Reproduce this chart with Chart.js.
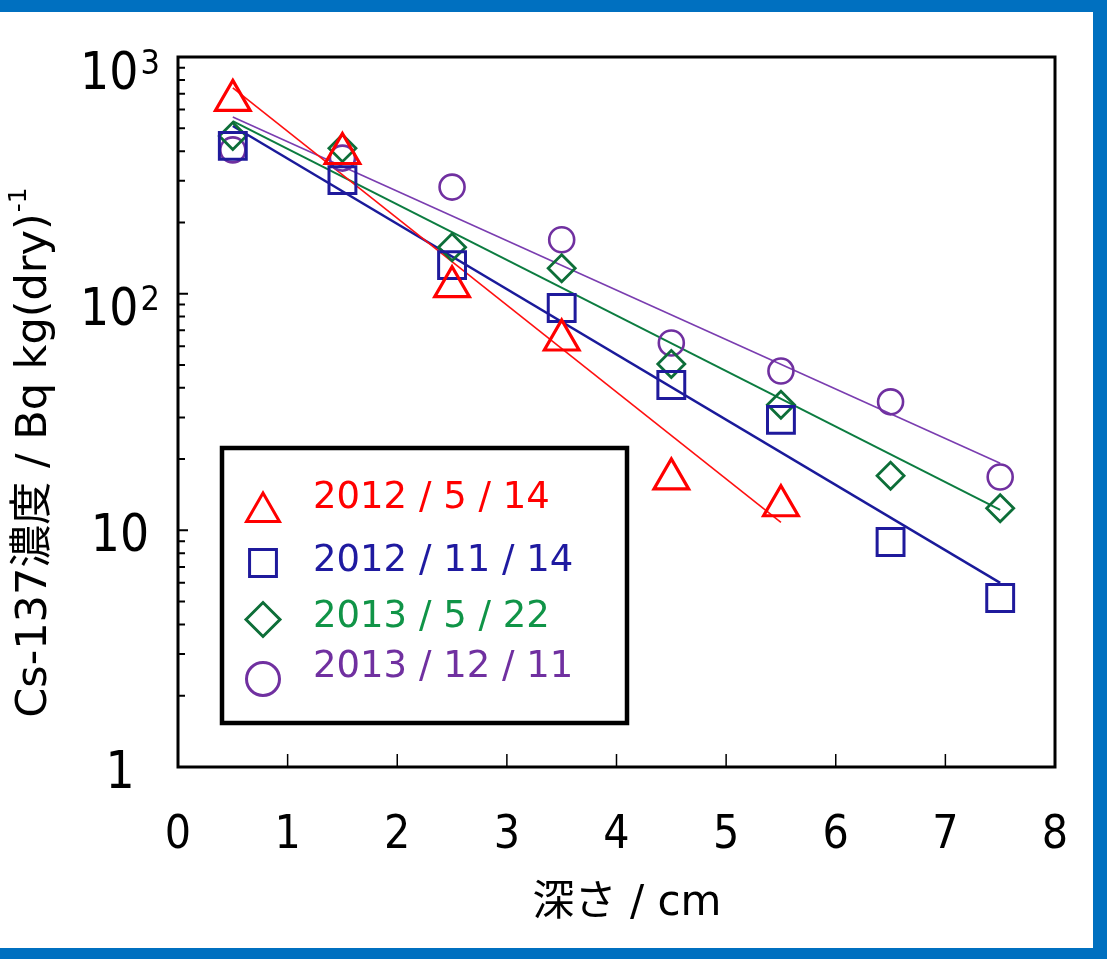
<!DOCTYPE html>
<html><head><meta charset="utf-8">
<script src="https://cdn.jsdelivr.net/npm/chart.js@4/dist/chart.umd.min.js"></script>
<style>
html,body{margin:0;padding:0;background:#fff;}
#wrap{position:relative;width:1107px;height:959px;overflow:hidden;background:#fff;}
#frame{position:absolute;left:0;top:0;width:1107px;height:959px;box-sizing:border-box;border-top:12px solid #0070C0;border-right:14px solid #0070C0;border-bottom:11px solid #0070C0;pointer-events:none;}
canvas{position:absolute;left:0;top:0;}
</style></head><body>
<div id="wrap"><canvas id="c" width="1107" height="959"></canvas><div id="frame"></div></div>
<script>
// ---- data ----
const depths = [0.5, 1.5, 2.5, 3.5, 4.5, 5.5, 6.5, 7.5];
const s2012May = [656, 391, 107, 63.7, 16.5, 12.7];
const s2012Nov = [421, 302, 132, 87, 41.1, 29.3, 8.93, 5.18];
const s2013May = [464, 412, 157, 128, 50.4, 33.9, 17.0, 12.4];
const s2013Dec = [405, 374, 282, 169, 61.9, 47.1, 34.9, 16.8];
const fitX2012May = [0.5, 5.5];
const fit2012May = [740, 10.8];
const fitX = [0.5, 7.5];
const fit2012Nov = [511, 6.0];
const fit2013May = [536, 12.2];
const fit2013Dec = [558, 19.2];
const seriesLabels = ['2012 / 5 / 14', '2012 / 11 / 14', '2013 / 5 / 22', '2013 / 12 / 11'];
const xTicks = [0, 1, 2, 3, 4, 5, 6, 7, 8];
const yMajor = [1, 10, 100, 1000];
const yTickLabels = [['1', ''], ['10', ''], ['10', '2'], ['10', '3']];
const yMinor = [2,3,4,5,6,7,8,9,20,30,40,50,60,70,80,90,200,300,400,500,600,700,800,900];
const xTitle = '深さ / cm';
const yTitle = ['Cs-137濃度 / Bq kg(dry)', '-1'];

// ---- styles ----
const RED = '#FF0000', BLUE = '#1F1A9C', GREEN = '#0D6E38', PURPLE = '#7030A0';
const textColors = [RED, '#1F1AA0', '#109447', '#7030A0'];
const FONT = '"DejaVu Sans Condensed", "DejaVu Sans", "Noto Sans CJK JP", sans-serif';
const FONT2 = '"DejaVu Sans", "Noto Sans CJK JP", sans-serif';

const pts = (xs, ys) => ys.map((v, i) => ({x: xs[i], y: v}));

function markerDs(label, vals, color, style, r, bw) {
  return {label, data: pts(depths, vals), showLine: false, pointStyle: style,
    pointRadius: r, pointHoverRadius: r, pointBorderColor: color, pointBackgroundColor: 'rgba(0,0,0,0)',
    pointBorderWidth: bw, borderColor: color, backgroundColor: 'rgba(0,0,0,0)'};
}
function lineDs(xs, vals, color, w) {
  return {label: '_fit', data: pts(xs, vals), showLine: true, pointRadius: 0, pointHoverRadius: 0,
    borderColor: color, borderWidth: w, fill: false, tension: 0};
}

const legendStyles = [
  {style: 'triangle', r: 19, color: RED},
  {style: 'rect', r: 19, color: BLUE},
  {style: 'rectRot', r: 17, color: GREEN},
  {style: 'circle', r: 16.5, color: PURPLE}
];

const decorPlugin = {
  id: 'decor',
  afterDraw(chart) {
    const ctx = chart.ctx, xs = chart.scales.x, ys = chart.scales.y, a = chart.chartArea;
    ctx.save();
    // inner ticks
    ctx.strokeStyle = '#000';
    ctx.lineWidth = 2;
    ctx.beginPath();
    yMinor.forEach(v => { const y = ys.getPixelForValue(v); ctx.moveTo(a.left, y); ctx.lineTo(a.left + 7, y); });
    yMajor.forEach(v => { const y = ys.getPixelForValue(v); ctx.moveTo(a.left, y); ctx.lineTo(a.left + 10, y); });
    ctx.stroke();
    ctx.lineWidth = 1.5;
    ctx.beginPath();
    xTicks.forEach(v => { const x = xs.getPixelForValue(v); ctx.moveTo(x, a.bottom); ctx.lineTo(x, a.bottom - 13); });
    ctx.stroke();
    // frame
    ctx.lineWidth = 3;
    ctx.strokeRect(a.left, a.top, a.right - a.left, a.bottom - a.top);

    // y tick labels
    ctx.fillStyle = '#000';
    ctx.textBaseline = 'alphabetic';
    ctx.textAlign = 'left';
    yMajor.forEach((v, i) => {
      const [base, sup] = yTickLabels[i];
      const py = ys.getPixelForValue(v);
      ctx.font = '51px ' + FONT;
      const wb = ctx.measureText(base).width;
      ctx.font = '34px ' + FONT;
      const ws = sup ? ctx.measureText(sup).width + 2 : 0;
      const left = 120 - (wb + ws) / 2;
      const baseline = py + (sup ? 13 : 2) + 18.5;
      ctx.font = '51px ' + FONT;
      ctx.fillText(base, left, baseline);
      if (sup) { ctx.font = '34px ' + FONT; ctx.fillText(sup, left + wb + 2, baseline - 15); }
    });

    // x title
    ctx.font = '42px ' + FONT2;
    ctx.textAlign = 'center';
    ctx.textBaseline = 'middle';
    ctx.fillText(xTitle, 627, 904);

    // y title (rotated)
    ctx.save();
    ctx.translate(31, 453);
    ctx.rotate(-Math.PI / 2);
    ctx.font = '43px ' + FONT2;
    const w1 = ctx.measureText(yTitle[0]).width;
    ctx.font = '25px ' + FONT2;
    const w2 = ctx.measureText(yTitle[1]).width;
    const st = -(w1 + w2) / 2;
    ctx.textAlign = 'left';
    ctx.textBaseline = 'alphabetic';
    ctx.font = '43px ' + FONT2;
    ctx.fillText(yTitle[0], st, 15);
    ctx.font = '25px ' + FONT2;
    ctx.fillText(yTitle[1], st + w1 + 1, -5);
    ctx.restore();

    // legend box
    ctx.lineWidth = 4.5;
    ctx.strokeStyle = '#000';
    ctx.strokeRect(222, 448, 405, 275);
    const markY = [512, 563, 619.5, 679];
    const textY = [498, 561, 617, 667];
    seriesLabels.forEach((lab, i) => {
      const ls = legendStyles[i];
      ctx.strokeStyle = ls.color;
      ctx.fillStyle = 'rgba(0,0,0,0)';
      ctx.lineWidth = 3;
      Chart.helpers.drawPoint(ctx, {pointStyle: ls.style, radius: ls.r, rotation: 0, borderWidth: 3}, 263, markY[i]);
      ctx.fillStyle = textColors[i];
      ctx.font = '37px ' + FONT2;
      ctx.textAlign = 'left';
      ctx.textBaseline = 'middle';
      ctx.fillText(lab, 313, textY[i]);
    });
    ctx.restore();
  }
};

new Chart(document.getElementById('c'), {
  type: 'scatter',
  data: {
    datasets: [
      markerDs(seriesLabels[0], s2012May, RED, 'triangle', 20, 3.2),
      markerDs(seriesLabels[1], s2012Nov, BLUE, 'rect', 19, 3),
      markerDs(seriesLabels[2], s2013May, GREEN, 'rectRot', 13.5, 2.8),
      markerDs(seriesLabels[3], s2013Dec, PURPLE, 'circle', 12.5, 2.6),
      lineDs(fitX2012May, fit2012May, '#FF1010', 1.6),
      lineDs(fitX, fit2012Nov, '#1A1A9A', 2.5),
      lineDs(fitX, fit2013May, '#0C7C40', 2),
      lineDs(fitX, fit2013Dec, '#7A3DB0', 1.6)
    ]
  },
  options: {
    responsive: false,
    animation: false,
    events: [],
    layout: {padding: {top: 57, right: 52, left: 0, bottom: 0}},
    plugins: {legend: {display: false}, tooltip: {enabled: false}},
    scales: {
      x: {
        type: 'linear', min: 0, max: 8,
        afterBuildTicks: s => { s.ticks = xTicks.map(v => ({value: v})); },
        afterFit: s => { s.height = 192; },
        grid: {display: false}, border: {display: false},
        ticks: {color: '#000', padding: 33, maxRotation: 0, autoSkip: false,
          font: {family: FONT, size: 46}}
      },
      y: {
        type: 'logarithmic', min: 1, max: 1000,
        afterBuildTicks: s => { s.ticks = yMajor.map(v => ({value: v})); },
        afterFit: s => { s.width = 178; },
        grid: {display: false}, border: {display: false},
        ticks: {display: false}
      }
    }
  },
  plugins: [decorPlugin]
});
</script>
</body></html>
